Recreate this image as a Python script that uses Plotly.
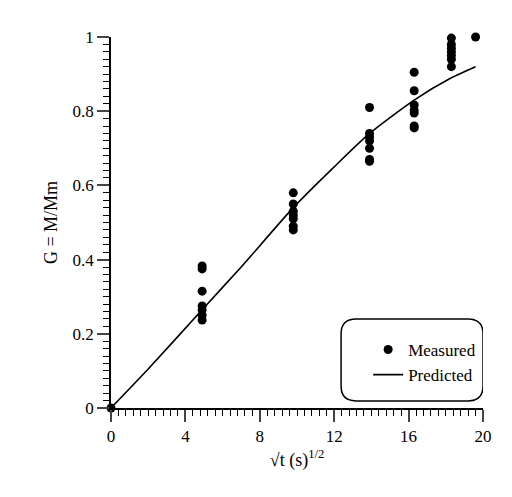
import plotly.graph_objects as go

meas_x = [0]+[4.9]*7+[9.8]*7+[13.9]*7+[16.3]*7+[18.3]*7+[19.6]
meas_y = [0,
          0.383,0.375,0.315,0.275,0.264,0.25,0.237,
          0.58,0.55,0.53,0.52,0.51,0.49,0.48,
          0.81,0.74,0.73,0.72,0.70,0.67,0.665,
          0.905,0.855,0.817,0.803,0.795,0.76,0.755,
          0.997,0.98,0.97,0.96,0.95,0.94,0.92,
          1.0]
pred_x = [0,2,4.9,7,9.8,12,13.9,16.3,18.3,19.6]
pred_y = [0,0.105,0.265,0.38,0.54,0.65,0.74,0.83,0.89,0.92]

font = "'Liberation Serif', 'Times New Roman', Times, serif"
fig = go.Figure()
fig.add_trace(go.Scatter(x=meas_x, y=meas_y, mode="markers", name="Measured",
                         marker=dict(color="black", size=9), cliponaxis=False))
fig.add_trace(go.Scatter(x=pred_x, y=pred_y, mode="lines", name="Predicted",
                         line=dict(color="black", width=1.6, shape="spline", smoothing=0.6)))

# rounded legend box
x0, x1, y0, y1 = 12.37, 20.0, 0.019, 0.24
rx, ry = 0.8, 0.04
path = (f"M {x0+rx},{y0} L {x1-rx},{y0} Q {x1},{y0} {x1},{y0+ry} L {x1},{y1-ry} "
        f"Q {x1},{y1} {x1-rx},{y1} L {x0+rx},{y1} Q {x0},{y1} {x0},{y1-ry} "
        f"L {x0},{y0+ry} Q {x0},{y0} {x0+rx},{y0} Z")
fig.add_shape(type="path", path=path, xref="x", yref="y",
              line=dict(color="black", width=1.5), fillcolor="white", layer="below")

fig.update_layout(
    width=512, height=497, paper_bgcolor="white", plot_bgcolor="white",
    margin=dict(l=103, r=37, t=29, b=97),
    font=dict(family=font, size=17, color="black"),
    legend=dict(x=0.995, y=0.205, xanchor="right", yanchor="top",
                bgcolor="rgba(0,0,0,0)", font=dict(family=font, size=17)),
    xaxis=dict(range=[0, 20], tickvals=[0,4,8,12,16,20], showline=True, linecolor="black",
               linewidth=1.5, ticks="outside", ticklen=12, tickwidth=1.5, showgrid=False,
               zeroline=False, minor=dict(dtick=0.4, ticks="outside", ticklen=6, tickwidth=1, tickcolor="black"),
               title=dict(text="√t (s)<sup>1/2</sup>", font=dict(family=font, size=18), standoff=8)),
    yaxis=dict(range=[0, 1], tickvals=[0,0.2,0.4,0.6,0.8,1], ticktext=["0","0.2","0.4","0.6","0.8","1"],
               showline=True, linecolor="black", linewidth=1.5, ticks="outside", ticklen=12,
               tickwidth=1.5, showgrid=False, zeroline=False,
               minor=dict(dtick=0.02, ticks="outside", ticklen=6, tickwidth=1, tickcolor="black"),
               title=dict(text="G = M/Mm", font=dict(family=font, size=18), standoff=10)),
)
fig.write_html("out.html")
